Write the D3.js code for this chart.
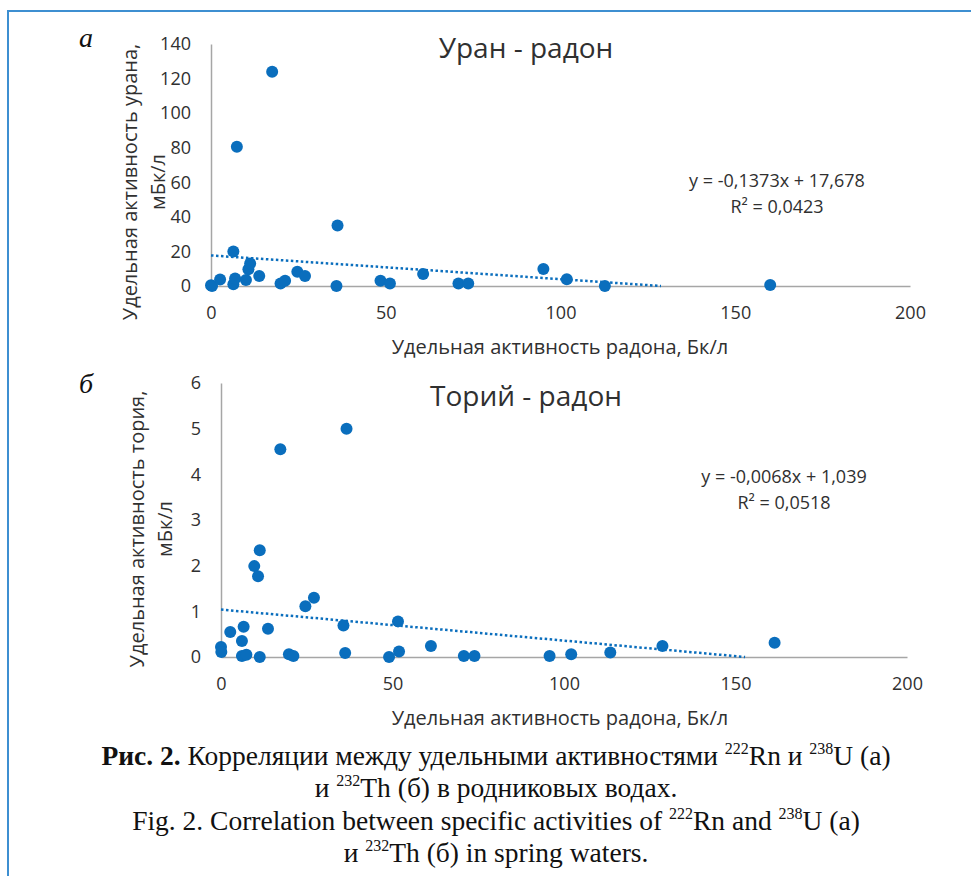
<!DOCTYPE html>
<html>
<head>
<meta charset="utf-8">
<script src="https://cdn.jsdelivr.net/npm/d3@7"></script>
<style>
  body { margin: 0; background: #fff; }
  .tick text { font-family: "Open Sans", sans-serif; font-size: 18px; fill: #303030; }
  .axis .domain { stroke: #a6a6a6; stroke-width: 1.5; }
  .chartText { font-family: "Open Sans", sans-serif; fill: #303030; }
  .caption { font-family: "Liberation Serif", serif; font-size: 27.5px; fill: #111; }
</style>
</head>
<body>
<div id="chart"></div>
<script>
// values
// (а) uranium vs radon
var radonU = [0, 0.3, 2.6, 6.4, 6.4, 6.9, 7.4, 10, 10.7, 11.2, 13.8, 17.5, 19.9, 21.2,
  24.7, 26.9, 35.9, 36.2, 48.5, 51.2, 60.7, 70.8, 73.6, 95.1, 101.8, 112.7, 160];
var uranium = [0.5, 0, 3.7, 19.9, 1, 4.4, 80.5, 3.5, 9.7, 13, 5.8, 124, 1.5, 3,
  8.3, 5.8, 0, 35, 3, 1.5, 6.9, 1.5, 1.5, 9.8, 3.9, 0, 0.6];

// (б) thorium vs radon
var radonTh = [0, 0.1, 2.7, 6.1, 6.1, 6.6, 7.4, 9.7, 10.8, 11.3, 11.3, 13.7, 17.3, 19.8,
  21.1, 24.6, 27.1, 35.7, 36.2, 36.6, 49, 51.6, 51.9, 61.2, 70.8, 73.9, 95.8, 102.1,
  113.5, 128.7, 161.4];
var thorium = [0.22, 0.11, 0.55, 0.35, 0.02, 0.66, 0.05, 1.99, 1.77, 2.34, 0, 0.62, 4.55, 0.06,
  0.02, 1.11, 1.3, 0.69, 0.09, 5.0, 0, 0.78, 0.12, 0.24, 0.02, 0.02, 0.02, 0.06,
  0.1, 0.24, 0.31];

// excel linear trendlines
var trendU = [-0.1373, 17.678];
var trendTh = [-0.0068, 1.039];

var xTicks = [0, 50, 100, 150, 200];
var yTicksU = [0, 20, 40, 60, 80, 100, 120, 140];
var yTicksTh = [0, 1, 2, 3, 4, 5, 6];

var svgWidth = 971;
var svgHeight = 876;
var dotColor = "#0a6ebd";

var svg = d3.select("#chart")
  .append("svg")
  .attr("width", svgWidth)
  .attr("height", svgHeight);

// blue frame (left and top only)
svg.append("path")
  .attr("d", "M8,876V11H971")
  .attr("fill", "none")
  .attr("stroke", "#3d8fd1")
  .attr("stroke-width", 2);

function drawPanel(opts) {
  var xLinearScale = d3.scaleLinear()
    .domain([0, 200])
    .range([opts.left, opts.right]);

  var yLinearScale = d3.scaleLinear()
    .domain([0, opts.yMax])
    .range([opts.bottom, opts.top]);

  var bottomAxis = d3.axisBottom(xLinearScale)
    .tickValues(xTicks)
    .tickSize(0)
    .tickPadding(20);

  var leftAxis = d3.axisLeft(yLinearScale)
    .tickValues(opts.yTicks)
    .tickFormat(d3.format("d"))
    .tickSize(0)
    .tickPadding(20);

  svg.append("g")
    .attr("class", "axis")
    .attr("transform", `translate(0, ${opts.bottom})`)
    .call(bottomAxis);

  svg.append("g")
    .attr("class", "axis")
    .attr("transform", `translate(${opts.left}, 0)`)
    .call(leftAxis);

  // dotted trendline, cut where it reaches the x axis
  var slope = opts.trend[0];
  var intercept = opts.trend[1];
  var xEnd = -intercept / slope;
  svg.append("line")
    .attr("x1", xLinearScale(0))
    .attr("y1", yLinearScale(intercept))
    .attr("x2", xLinearScale(xEnd))
    .attr("y2", yLinearScale(0))
    .attr("stroke", dotColor)
    .attr("stroke-width", 2.5)
    .attr("stroke-dasharray", "2.5,2.5");

  svg.append("g")
    .selectAll("circle")
    .data(opts.xs)
    .enter()
    .append("circle")
    .attr("cx", d => xLinearScale(d))
    .attr("cy", (d, i) => yLinearScale(opts.ys[i]))
    .attr("r", 6)
    .attr("fill", dotColor);

  // chart title
  svg.append("text")
    .attr("class", "chartText")
    .attr("x", 526)
    .attr("y", opts.titleY)
    .attr("text-anchor", "middle")
    .style("font-size", "28px")
    .text(opts.title);

  // x axis title
  svg.append("text")
    .attr("class", "chartText")
    .attr("x", 560)
    .attr("y", opts.bottom + 68)
    .attr("text-anchor", "middle")
    .style("font-size", "20px")
    .text("Удельная активность радона, Бк/л");

  // y axis title, two lines
  opts.yTitle.forEach(function(line, i) {
    svg.append("text")
      .attr("class", "chartText")
      .attr("transform", `translate(${opts.yTitleX + i * 28}, ${opts.yTitleY}) rotate(-90)`)
      .attr("text-anchor", "middle")
      .attr("dy", "0.35em")
      .style("font-size", "20px")
      .text(line);
  });

  // equation and R²
  svg.append("text")
    .attr("class", "chartText")
    .attr("x", opts.eqX)
    .attr("y", opts.eqY)
    .attr("text-anchor", "middle")
    .style("font-size", "18px")
    .text(opts.eq);

  svg.append("text")
    .attr("class", "chartText")
    .attr("x", opts.eqX)
    .attr("y", opts.eqY + 26)
    .attr("text-anchor", "middle")
    .style("font-size", "18px")
    .text(opts.r2);

  // panel letter
  svg.append("text")
    .attr("x", 79)
    .attr("y", opts.letterY)
    .style("font-family", "Liberation Serif, serif")
    .style("font-style", "italic")
    .style("font-size", "28px")
    .attr("fill", "#111")
    .text(opts.letter);
}

drawPanel({
  left: 211, right: 910, top: 44, bottom: 286, yMax: 140,
  yTicks: yTicksU, xs: radonU, ys: uranium, trend: trendU,
  title: "Уран - радон", titleY: 58,
  yTitle: ["Удельная активность урана,", "мБк/л"], yTitleX: 130, yTitleY: 182,
  eq: "y = -0,1373x + 17,678", r2: "R² = 0,0423", eqX: 777, eqY: 187,
  letter: "а", letterY: 47
});

drawPanel({
  left: 221, right: 907, top: 383, bottom: 657, yMax: 6,
  yTicks: yTicksTh, xs: radonTh, ys: thorium, trend: trendTh,
  title: "Торий - радон", titleY: 406,
  yTitle: ["Удельная активность тория,", "мБк/л"], yTitleX: 137, yTitleY: 529,
  eq: "y = -0,0068x + 1,039", r2: "R² = 0,0518", eqX: 784, eqY: 483,
  letter: "б", letterY: 393
});

// caption, each line is a list of [text, kind]
var captionLines = [
  [["Рис. 2.", "b"], [" Корреляции между удельными активностями ", ""], ["222", "sup"], ["Rn и ", ""], ["238", "sup"], ["U (а)", ""]],
  [["и ", ""], ["232", "sup"], ["Th (б) в родниковых водах.", ""]],
  [["Fig. 2. Correlation between specific activities of ", ""], ["222", "sup"], ["Rn and ", ""], ["238", "sup"], ["U (a)", ""]],
  [["и ", ""], ["232", "sup"], ["Th (б) in spring waters.", ""]]
];
var captionY = [765, 797, 830, 862];

captionLines.forEach(function(parts, i) {
  var line = svg.append("text")
    .attr("class", "caption")
    .attr("x", 496)
    .attr("y", captionY[i])
    .attr("text-anchor", "middle");
  var raised = false;
  parts.forEach(function(p) {
    var t = line.append("tspan").text(p[0]);
    if (p[1] === "b") t.style("font-weight", "bold");
    if (p[1] === "sup") {
      t.style("font-size", "16px").attr("dy", -11);
      raised = true;
    } else if (raised) {
      t.attr("dy", 11);
      raised = false;
    }
  });
});
</script>
</body>
</html>
